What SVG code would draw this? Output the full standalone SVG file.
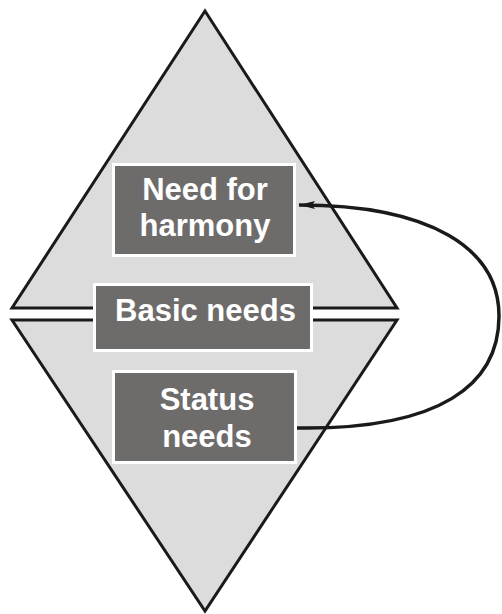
<svg xmlns="http://www.w3.org/2000/svg" width="502" height="614" viewBox="0 0 502 614">
<defs>
<style>
.tri{fill:#dcdcdc;stroke:#1a1a1a;stroke-width:3;stroke-linejoin:miter}
.box{fill:#6e6c6b;stroke:#ffffff;stroke-width:3}
.lbl{font-family:"Liberation Sans",Arial,sans-serif;font-weight:bold;font-size:31px;fill:#ffffff;text-anchor:middle}
.conn{fill:none;stroke:#1a1a1a;stroke-width:3.5}
</style>
<marker id="ah" markerWidth="18" markerHeight="10" refX="16" refY="5" orient="auto" markerUnits="userSpaceOnUse">
<path d="M0,1 L16,5 L0,9 L3,5 Z" fill="#1a1a1a"/>
</marker>
</defs>
<rect width="502" height="614" fill="#ffffff"/>
<g id="diamond">
<polygon class="tri" points="205,11 397,308 12,308"/>
<polygon class="tri" points="12,320 397,320 205,611"/>
</g>
<g id="connectors">
<path class="conn" d="M297,428 C440,430 499,385 499,316 C499,248 430,205 299,205" marker-end="url(#ah)"/>
</g>
<g id="need-for-harmony">
<rect class="box" x="113.5" y="164.5" width="181" height="91"/>
<text class="lbl" x="205" y="200">Need for</text>
<text class="lbl" x="205" y="236">harmony</text>
</g>
<g id="basic-needs">
<rect class="box" x="94.5" y="284.5" width="217" height="66"/>
<text class="lbl" x="205.5" y="321">Basic needs</text>
</g>
<g id="status-needs">
<rect class="box" x="113.5" y="371.5" width="182" height="91"/>
<text class="lbl" x="207" y="410">Status</text>
<text class="lbl" x="207" y="447">needs</text>
</g>
</svg>
